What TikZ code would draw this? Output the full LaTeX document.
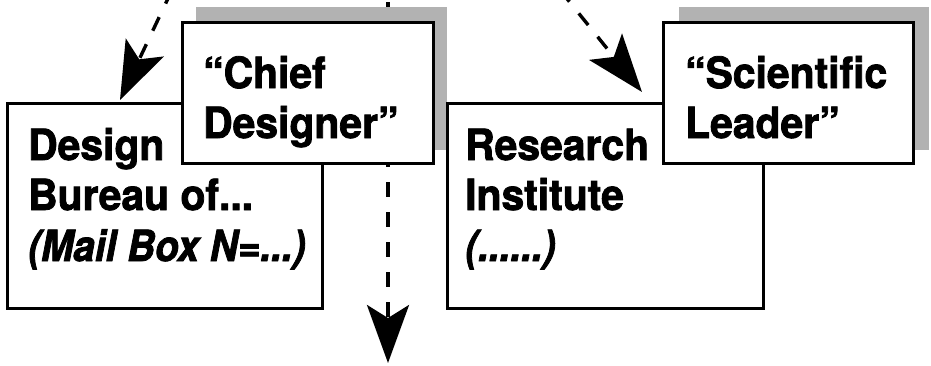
\documentclass[tikz,border=0pt]{standalone}
\usepackage{fontspec}
\setmainfont{TeX Gyre Heros}[
  BoldFeatures={FakeStretch=0.95,FakeBold=1.8},
  BoldItalicFeatures={FakeStretch=0.9,FakeBold=1.8}]
\usetikzlibrary{arrows.meta}
\begin{document}
\begin{tikzpicture}[x=1pt,y=-1pt,
  box/.style={draw=black, line width=3pt, fill=white, rectangle, inner sep=0pt, outer sep=0pt, anchor=north west},
  shadowfill/.style={fill=black!30, draw=none},
  lbl/.style={anchor=base west, inner sep=0pt, font=\fontsize{43}{48}\selectfont\bfseries},
  lbli/.style={anchor=base west, inner sep=0pt, font=\fontsize{43}{48}\selectfont\bfseries\itshape},
  flow/.style={line width=3.4pt, dash pattern=on 15pt off 15pt, -{Stealth[length=58pt,width=42pt,inset=13pt]}},
]
\useasboundingbox (0,0) rectangle (931,365);
\clip (0,0) rectangle (931,365);

% connector end points
\coordinate (a1s) at (172,-10);
\coordinate (a1t) at (120,100);
\coordinate (a2s) at (388,-8);
\coordinate (a2t) at (388,363);
\coordinate (a3s) at (560,-10);
\coordinate (a3t) at (642,92);

% dashed arrows
\draw[flow] (a1s) -- (a1t);
\draw[flow, dash phase=20pt] (a2s) -- (a2t);
\draw[flow] (a3s) -- (a3t);

% shadows
\fill[shadowfill] (196,7) rectangle (447,150);
\fill[shadowfill] (679,7) rectangle (929,150);

% large boxes
\node[box, minimum width=315pt, minimum height=205pt] (db) at (7,103) {};
\node[box, minimum width=316pt, minimum height=205pt] (ri) at (447,103) {};
\node[lbl]  (d1) at (28,160) {Design};
\node[lbl]  (d2) at (28,210) {Bureau of...};
\node[lbli] (d3) at (28,261) {(Mail Box N=...)};
\node[lbl]  (r1) at (465,160) {Research};
\node[lbl]  (r2) at (465,210) {Institute};
\node[lbli] (r3) at (465,261) {(......)};

% small boxes
\node[box, minimum width=251pt, minimum height=141pt] (cd) at (182,22) {};
\node[box, minimum width=250pt, minimum height=141pt] (sl) at (663,22) {};
\node[lbl] (c1) at (203,88) {“Chief};
\node[lbl] (c2) at (203,138) {Designer”};
\node[lbl] (s1) at (685,88) {“Scientific};
\node[lbl] (s2) at (685,138) {Leader”};
\end{tikzpicture}
\end{document}
